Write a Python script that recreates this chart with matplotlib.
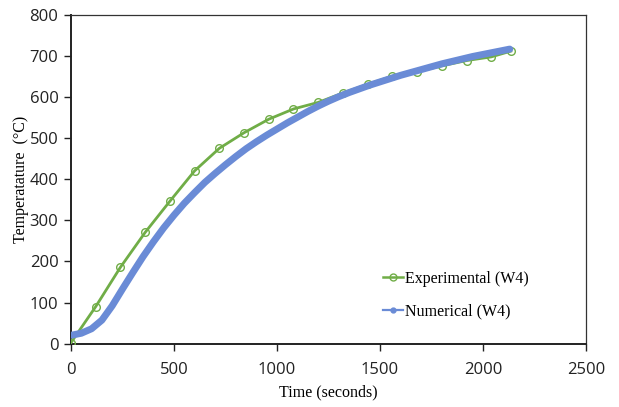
import matplotlib
matplotlib.use("Agg")
import matplotlib.pyplot as plt
from matplotlib.lines import Line2D
from matplotlib import font_manager

# Experimental (W4)
exp_time = [0, 120, 240, 360, 480, 600, 720, 840, 960, 1080, 1200, 1320,
            1440, 1560, 1680, 1800, 1920, 2040, 2135]
exp_temp = [2, 90, 186, 271, 347, 421, 476, 514, 547, 572, 588, 611,
            632, 652, 663, 677, 690, 699, 713]

# Numerical (W4)
num_time = [0, 50, 100, 150, 200, 250, 300, 350, 400, 450, 500, 550, 600,
            650, 700, 750, 800, 850, 900, 950, 1000, 1050, 1100, 1150, 1200,
            1250, 1300, 1350, 1400, 1450, 1500, 1550, 1600, 1650, 1700, 1750,
            1800, 1850, 1900, 1950, 2000, 2050, 2100, 2130]
num_temp = [20, 25, 36, 57, 92, 133, 173, 212, 248, 282, 313, 342, 368,
            393, 415, 436, 456, 475, 492, 508, 523, 538, 552, 566, 579,
            591, 602, 612, 621, 630, 638, 646, 654, 661, 668, 675,
            682, 688, 694, 700, 705, 710, 715, 718]

x_ticks = [0, 500, 1000, 1500, 2000, 2500]
y_ticks = [0, 100, 200, 300, 400, 500, 600, 700, 800]

green = "#70AD47"
blue = "#6A8BD6"


def pick_font(cands):
    for c in cands:
        try:
            font_manager.findfont(font_manager.FontProperties(family=c),
                                  fallback_to_default=False)
            return c
        except Exception:
            continue
    return "DejaVu Sans"


tick_family = pick_font(["Liberation Sans Narrow", "Open Sans", "Lato"])

fig = plt.figure(figsize=(6.19, 4.07), dpi=100)
ax = fig.add_axes([0.1147, 0.156, 0.832, 0.806])

ax.plot(exp_time, exp_temp, color=green, lw=2.0, marker="o", ms=5.5,
        mfc="none", mec=green, mew=1.0, zorder=3)
ax.plot(num_time, num_temp, color=blue, lw=5.0, solid_capstyle="round",
        solid_joinstyle="round", zorder=4)

ax.set_xlim(0, 2500)
ax.set_ylim(0, 800)
ax.set_xticks(x_ticks)
ax.set_yticks(y_ticks)

tick_font = {"family": tick_family, "size": 12}
ax.set_xticklabels([str(v) for v in x_ticks], fontdict=tick_font, color="#222222")
ax.set_yticklabels([str(v) for v in y_ticks], fontdict=tick_font, color="#222222")
ax.tick_params(axis="both", direction="out", length=5, width=1.0, color="#222222")
ax.tick_params(axis="x", pad=8)
ax.tick_params(axis="y", pad=4)

for side in ["bottom", "left"]:
    ax.spines[side].set_linewidth(1.4)
    ax.spines[side].set_color("#222222")
for side in ["top", "right"]:
    ax.spines[side].set_linewidth(0.9)
    ax.spines[side].set_color("#333333")

label_font = {"family": "Liberation Serif", "size": 11.5}
ax.set_xlabel("Time (seconds)", fontdict=label_font, labelpad=5)
ax.set_ylabel("Temperatature  (°C)", fontdict=label_font)
ax.yaxis.set_label_coords(-0.081, 0.5)

handles = [
    Line2D([], [], color=green, lw=1.8, marker="o", ms=5, mfc="none", mec=green),
    Line2D([], [], color=blue, lw=1.6, marker="o", ms=3.5, mfc=blue, mec=blue),
]
leg = ax.legend(handles, ["Experimental (W4)", "Numerical (W4)"],
                loc="upper left", bbox_to_anchor=(0.578, 0.265),
                frameon=False, handlelength=1.25, handletextpad=0.15,
                labelspacing=1.05, prop={"family": "Liberation Serif", "size": 11.5})

fig.savefig("out.png", dpi=100)
